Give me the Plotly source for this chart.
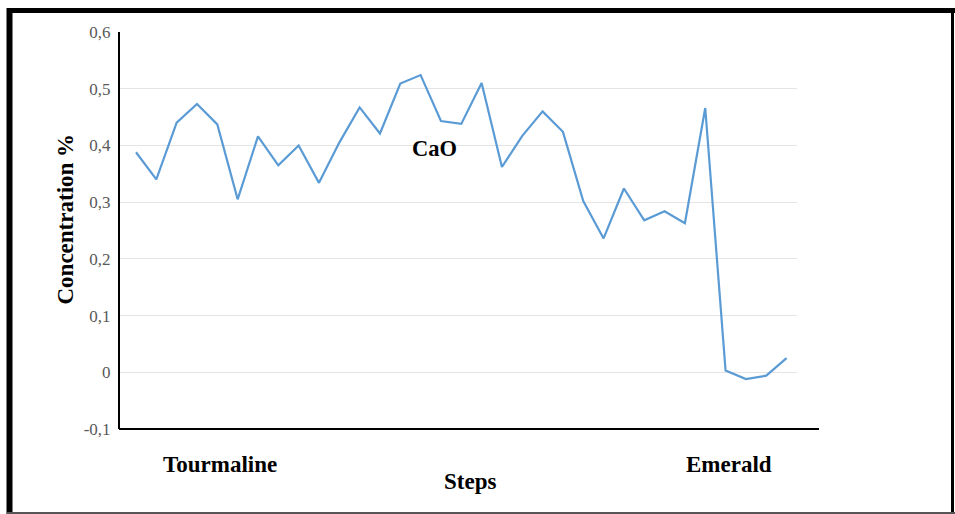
import plotly.graph_objects as go

# Data
steps = list(range(1, 34))
cao = [0.388, 0.340, 0.440, 0.473, 0.437, 0.305, 0.416, 0.365, 0.400, 0.334,
       0.405, 0.467, 0.421, 0.509, 0.524, 0.443, 0.438, 0.510, 0.362, 0.417,
       0.460, 0.424, 0.302, 0.236, 0.324, 0.268, 0.284, 0.263, 0.466, 0.003,
       -0.012, -0.006, 0.025]
y_tickvals = [-0.1, 0, 0.1, 0.2, 0.3, 0.4, 0.5, 0.6]
y_ticktext = ["-0,1", "0", "0,1", "0,2", "0,3", "0,4", "0,5", "0,6"]

W, H = 955, 514
L, R_PX, T, B_PX = 120, 797, 32, 429


def px2x(px):
    return (px - L) / (R_PX - L)


def py2y(py):
    return (B_PX - py) / (B_PX - T)


SERIF = "Liberation Serif, Times New Roman, serif"

fig = go.Figure()
fig.add_trace(go.Scatter(x=steps, y=cao, mode="lines",
                         line=dict(color="#5b9bd5", width=2.2),
                         showlegend=False, hoverinfo="skip"))

fig.update_layout(
    width=W, height=H,
    margin=dict(l=L, r=W - R_PX, t=T, b=H - B_PX, pad=0),
    paper_bgcolor="white", plot_bgcolor="white",
    xaxis=dict(range=[1 + (L - 136) / 20.33, 1 + (R_PX - 136) / 20.33],
               showgrid=False, zeroline=False, showline=False,
               showticklabels=False, ticks=""),
    yaxis=dict(range=[-0.1, 0.6], tickvals=y_tickvals, ticktext=y_ticktext,
               showgrid=True, gridcolor="#e4e4e4", gridwidth=1,
               zeroline=False, showline=True, linecolor="black", linewidth=2,
               ticks="", ticklabelstandoff=4,
               tickfont=dict(family=SERIF, size=17, color="#595959")),
    font=dict(family=SERIF, color="black"),
)

shapes = []
# x axis line extended
shapes.append(dict(type="line", xref="paper", yref="paper",
                   x0=px2x(119), x1=px2x(819), y0=0, y1=0,
                   line=dict(color="black", width=2)))
# outer frame
shapes.append(dict(type="line", xref="paper", yref="paper",
                   x0=px2x(7), x1=px2x(955), y0=py2y(10.5), y1=py2y(10.5),
                   line=dict(color="black", width=5)))
shapes.append(dict(type="line", xref="paper", yref="paper",
                   x0=px2x(9.5), x1=px2x(9.5), y0=py2y(8), y1=py2y(514),
                   line=dict(color="black", width=6)))
shapes.append(dict(type="line", xref="paper", yref="paper",
                   x0=px2x(952.5), x1=px2x(952.5), y0=py2y(8), y1=py2y(514),
                   line=dict(color="black", width=3)))
shapes.append(dict(type="line", xref="paper", yref="paper",
                   x0=px2x(7), x1=px2x(955), y0=py2y(513), y1=py2y(513),
                   line=dict(color="#555555", width=2)))
fig.update_layout(shapes=shapes)

ann = [
    dict(text="<b>Concentration %</b>", x=px2x(64.5), y=py2y(219), textangle=-90,
         font=dict(size=23)),
    dict(text="<b>Tourmaline</b>", x=px2x(219.5), y=py2y(464), font=dict(size=23)),
    dict(text="<b>Steps</b>", x=px2x(469.5), y=py2y(481), font=dict(size=23)),
    dict(text="<b>Emerald</b>", x=px2x(729), y=py2y(464), font=dict(size=23)),
    dict(text="<b>CaO</b>", x=px2x(434.5), y=py2y(148), font=dict(size=22.5)),
]
for a in ann:
    a.update(xref="paper", yref="paper", showarrow=False,
             xanchor="center", yanchor="middle")
fig.update_layout(annotations=ann)

fig.write_html("out.html", config={"displayModeBar": False},
               post_script="document.body.style.margin='0';"
                           "document.body.style.overflow='hidden';")
